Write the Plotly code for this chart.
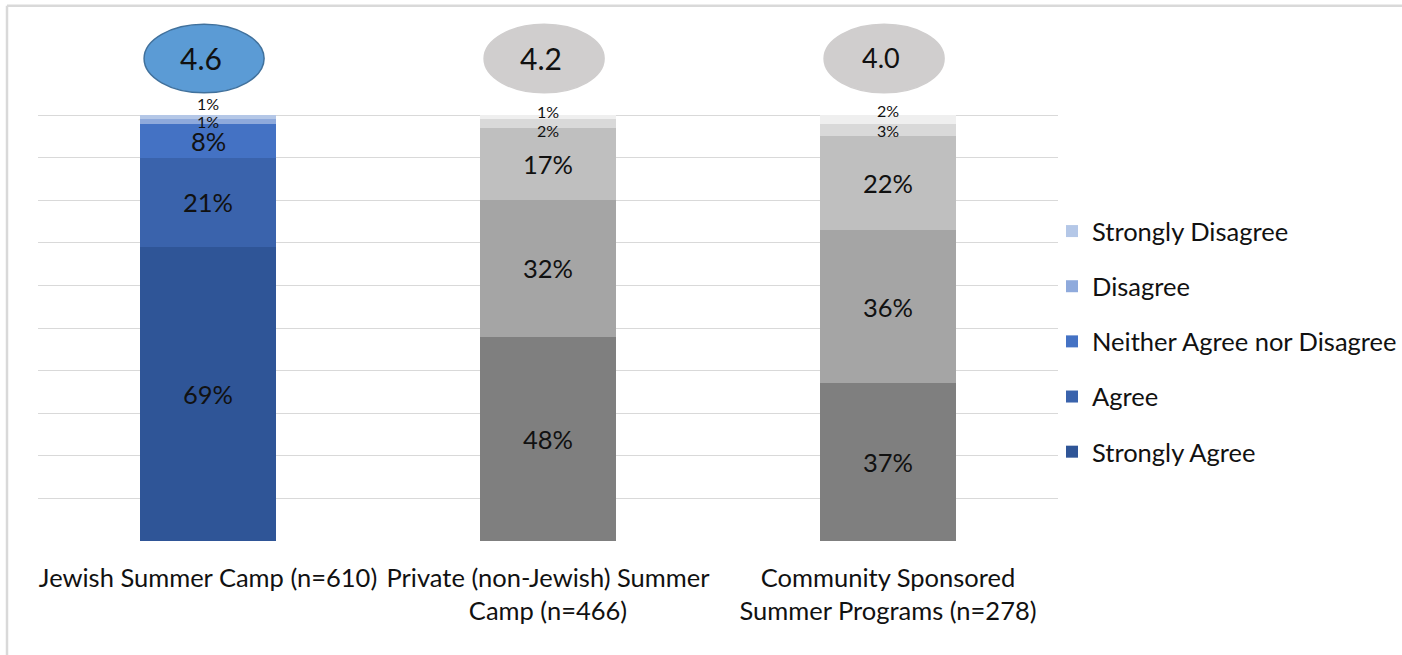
import plotly.graph_objects as go

# ---- data -------------------------------------------------------------
categories = [
    "Jewish Summer Camp (n=610)",
    "Private (non-Jewish) Summer<br>Camp (n=466)",
    "Community Sponsored<br>Summer Programs (n=278)",
]
responses = ["Strongly Agree", "Agree", "Neither Agree nor Disagree",
             "Disagree", "Strongly Disagree"]
strongly_agree = [69, 48, 37]
agree = [21, 32, 36]
neither = [8, 17, 22]
disagree = [1, 2, 3]
strongly_disagree = [1, 1, 2]
mean_scores = ["4.6", "4.2", "4.0"]

series = [strongly_agree, agree, neither, disagree, strongly_disagree]

# ---- styling ------------------------------------------------------------
blues = ["#2F5597", "#3A63AC", "#4472C4", "#8FAADC", "#B4C7E7"]
greys = ["#7F7F7F", "#A5A5A5", "#BFBFBF", "#D9D9D9", "#EFEFEF"]
FONT = "Lato"
TEXT = "#111111"
BIG = 25.5

W, H = 1402, 655
ML, MR, MT, MB = 38, 344, 15, 114
PLOT_W = W - ML - MR
PLOT_H = H - MT - MB
PX_PER_UNIT = 4.26                      # pixels per percentage point
Y_MAX = PLOT_H / PX_PER_UNIT


def px_x(px):
    return (px - ML) / PLOT_W


def px_y(py):
    return (H - MB - py) / PLOT_H


fig = go.Figure()
x_idx = list(range(len(categories)))

for k, (name, vals) in enumerate(zip(responses, series)):
    fig.add_trace(go.Bar(
        x=x_idx, y=vals, name=name,
        marker=dict(color=[blues[k], greys[k], greys[k]], line=dict(width=0)),
        width=0.4, legendgroup=name, legendrank=len(responses) - k,
        hoverinfo="skip",
    ))

# segment value labels
small_shift = {3: [0, -7, -1], 4: [14, 6, 9]}
for i in x_idx:
    base = 0
    for k, vals in enumerate(series):
        v = vals[i]
        centre = base + v / 2
        base += v
        shift = small_shift.get(k, [0, 0, 0])[i]
        fig.add_annotation(
            x=i, y=centre, text=f"{v}%", showarrow=False, yshift=shift,
            borderpad=0,
            font=dict(family=FONT, size=16 if v <= 3 else BIG, color=TEXT),
        )

# mean-score ellipses above each bar
for i, score in enumerate(mean_scores):
    first = i == 0
    fig.add_shape(
        type="circle", xref="x", yref="y",
        x0=i - 0.188, x1=i + 0.165, y0=105.2, y1=121.3,
        fillcolor="#5B9BD5" if first else "#D0CECE",
        line=dict(color="#41719C" if first else "#D0CECE", width=1.5),
        layer="above",
    )
    fig.add_annotation(
        x=i - 0.02, y=113.0, text=score, showarrow=False, yshift=2,
        font=dict(family=FONT, size=30 if i < 2 else 27, color=TEXT),
    )

# frame lines on the left and top edges
fig.add_shape(type="line", xref="paper", yref="paper",
              x0=px_x(7), x1=px_x(7), y0=px_y(5.7), y1=px_y(700),
              line=dict(color="#D9D9D9", width=2.5))
fig.add_shape(type="line", xref="paper", yref="paper",
              x0=px_x(7), x1=px_x(1450), y0=px_y(5.7), y1=px_y(5.7),
              line=dict(color="#D9D9D9", width=2.5))

fig.update_layout(
    width=W, height=H,
    margin=dict(l=ML, r=MR, t=MT, b=MB, autoexpand=False),
    barmode="stack", bargap=0.6,
    plot_bgcolor="white", paper_bgcolor="white",
    font=dict(family=FONT, color=TEXT),
    showlegend=True,
    legend=dict(
        x=px_x(1052), xanchor="left", y=px_y(208), yanchor="top",
        traceorder="grouped", tracegroupgap=19,
        font=dict(family=FONT, size=BIG, color=TEXT),
        bgcolor="rgba(0,0,0,0)",
    ),
    xaxis=dict(
        tickmode="array", tickvals=x_idx, ticktext=categories,
        range=[-0.5, 2.5], showgrid=False, zeroline=False, showline=False,
        ticks="", ticklabelstandoff=19, automargin=False,
        tickfont=dict(family=FONT, size=BIG, color=TEXT),
    ),
    yaxis=dict(
        range=[0, Y_MAX], tickvals=list(range(0, 101, 10)),
        showticklabels=False, showgrid=True, gridcolor="#D9D9D9",
        gridwidth=1, zeroline=False, showline=False, ticks="",
        automargin=False,
    ),
)

fig.write_html("out.html")
